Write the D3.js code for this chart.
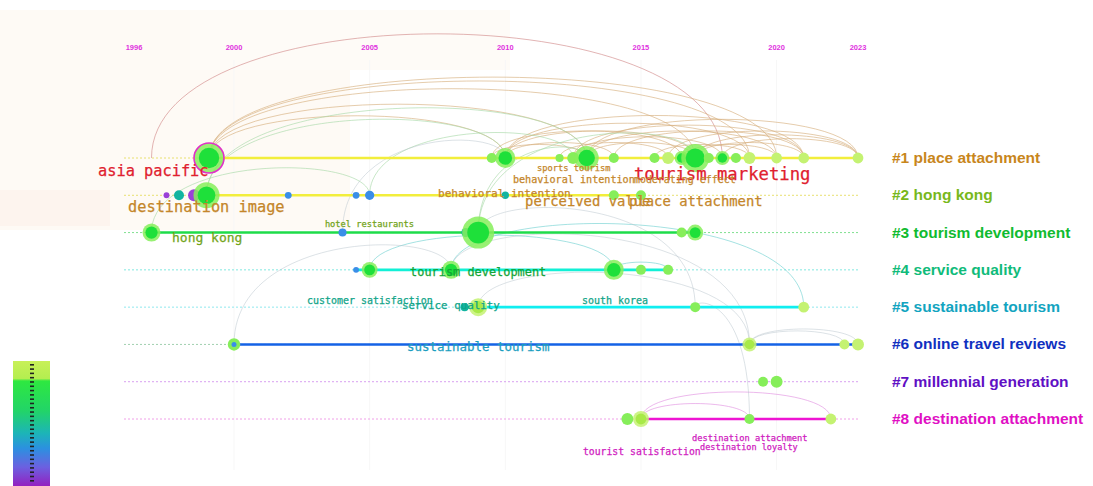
<!DOCTYPE html>
<html>
<head>
<meta charset="utf-8">
<script src="https://cdn.jsdelivr.net/npm/d3@7"></script>
<style>
  body { margin: 0; background: #fff; }
  svg { display: block; }
</style>
</head>
<body>
<div id="chart"></div>
<script>
// ---- data ----
const clusterIds = [1, 2, 3, 4, 5, 6, 7, 8];
const clusterNames = ["#1 place attachment", "#2 hong kong", "#3 tourism development", "#4 service quality",
  "#5 sustainable tourism", "#6 online travel reviews", "#7 millennial generation", "#8 destination attachment"];
const yearTicks = [1996, 2000, 2005, 2010, 2015, 2020, 2023];
// solid timeline span of each cluster (null = no solid line)
const lineStart = [1999, 1999, 1996.7, 2004.5, 2008.6, 2000, null, 2015];
const lineEnd = [2023, 2015, 2017, 2016, 2021, 2023, null, 2022];

// nodes: [cluster, year, citations, kind]   kind: g green, y yellow-green, b blue, t teal, p purple
const nodes = [
  [1, 1999, 233, "g"], [1, 2009.5, 26, "g"], [1, 2010, 104, "g"], [1, 2012, 17, "g"], [1, 2012.5, 37, "g"],
  [1, 2013, 150, "g"], [1, 2014, 26, "g"], [1, 2015.5, 26, "g"], [1, 2016, 37, "y"], [1, 2016.5, 51, "g"],
  [1, 2017, 203, "g"], [1, 2017.5, 26, "g"], [1, 2018, 51, "g"], [1, 2018.5, 26, "g"], [1, 2019, 37, "y"],
  [1, 2020, 30, "y"], [1, 2021, 30, "y"], [1, 2023, 30, "y"],
  [2, 1997.3, 9, "p"], [2, 1997.8, 26, "t"], [2, 1998.4, 37, "p"], [2, 1998.9, 175, "g"], [2, 2002, 12, "b"],
  [2, 2004.5, 12, "b"], [2, 2005, 22, "b"], [2, 2010, 14, "t"], [2, 2014, 26, "g"], [2, 2015, 26, "g"],
  [3, 1996.7, 84, "g"], [3, 2004, 17, "b"], [3, 2008.55, 22, "t"], [3, 2009, 266, "g"], [3, 2016.5, 26, "g"],
  [3, 2017, 66, "g"],
  [4, 2004.5, 9, "b"], [4, 2005, 66, "g"], [4, 2008, 84, "g"], [4, 2014, 104, "g"], [4, 2015, 26, "g"],
  [4, 2016, 26, "g"],
  [5, 2008.5, 17, "t"], [5, 2009, 84, "y"], [5, 2017, 26, "g"], [5, 2021, 30, "y"],
  [6, 2000, 40, "gb"], [6, 2019, 51, "y"], [6, 2022.5, 26, "y"], [6, 2023, 37, "y"],
  [7, 2019.5, 26, "g"], [7, 2020, 37, "g"],
  [8, 2014.5, 37, "g"], [8, 2015, 66, "y"], [8, 2019, 26, "g"], [8, 2022, 30, "y"]
];

// co-citation links: [cluster1, year1, cluster2, year2, kind]
const links = [
  [1, 1996.7, 1, 2018, "r"],
  [1, 1999, 1, 2010, "t"], [1, 1999, 1, 2013, "t"], [1, 1999, 1, 2017, "t"], [1, 1999, 1, 2019, "t"],
  [1, 1999, 1, 2020, "t"], [1, 2009.5, 1, 2016.5, "t"], [1, 2010, 1, 2017, "t"], [1, 2010, 1, 2019, "t"],
  [1, 2010, 1, 2021, "t"], [1, 2012.5, 1, 2018, "t"], [1, 2013, 1, 2017, "t"], [1, 2013, 1, 2020, "t"],
  [1, 2013, 1, 2023, "t"], [1, 2014, 1, 2021, "t"], [1, 2015.5, 1, 2019, "t"], [1, 2016, 1, 2023, "t"],
  [1, 2016.5, 1, 2020, "t"], [1, 2017, 1, 2021, "t"], [1, 2017, 1, 2023, "t"], [1, 2012, 1, 2016, "t"],
  [1, 2018, 1, 2023, "t"], [1, 2010, 1, 2014, "t"], [1, 2012.5, 1, 2021, "t"], [1, 2009.5, 1, 2013, "t"],
  [2, 1998.9, 1, 2010, "g"], [2, 1998.9, 1, 2013, "g"], [3, 2009, 1, 2013, "g"], [3, 2009, 1, 2017, "g"],
  [3, 1996.7, 2, 2005, "g"], [2, 2005, 1, 2012.5, "g"], [3, 2004, 1, 2010, "s"],
  [4, 2008, 5, 2021, "c"], [4, 2005, 4, 2014, "c"], [4, 2014, 4, 2016, "c"], [5, 2009, 6, 2019, "s"],
  [6, 2000, 4, 2008, "s"], [4, 2008, 6, 2019, "s"], [3, 2009, 5, 2017, "s"],
  [6, 2019, 6, 2022.5, "s"], [6, 2019, 6, 2023, "s"],
  [8, 2015, 8, 2019, "m"], [8, 2015, 8, 2022, "m"], [5, 2017, 8, 2019, "s"]
];

// labels: [text, cluster, startYear, offset below row (px), citations]
const labels = [
  ["asia pacific", 1, 1994.56, 18, 86], ["tourism marketing", 1, 2014.74, 22, 97],
  ["sports tourism", 1, 2011.17, 13, 49], ["behavioral intention", 1, 2010.28, 25, 57],
  ["moderating effect", 1, 2014.74, 25, 56],
  ["destination image", 2, 1995.76, 17, 86], ["behavioral intention", 2, 2007.52, 2, 62],
  ["perceived value", 2, 2010.73, 11, 78], ["place attachment", 2, 2014.56, 11, 78],
  ["hong kong", 3, 1997.52, 9, 73], ["hotel restaurants", 3, 2003.35, -6, 49],
  ["tourism development", 4, 2006.49, 6, 67],
  ["customer satisfaction", 5, 2002.69, -3, 56], ["service quality", 5, 2006.19, 2, 61],
  ["south korea", 5, 2012.83, -3, 56],
  ["sustainable tourism", 6, 2006.38, 7, 70],
  ["tourist satisfaction", 8, 2012.86, 36, 55], ["destination attachment", 8, 2016.88, 22, 49],
  ["destination loyalty", 8, 2017.18, 31, 48]
];

// ---- drawing ----
const width = 1093, height = 486;
const svg = d3.select("#chart").append("svg")
  .attr("width", width)
  .attr("height", height);

const x = d3.scaleLinear().domain([1996, 2000, 2023]).range([134, 234, 858]);
const y = d3.scalePoint().domain(clusterIds).range([158, 419]);
const r = d3.scaleSqrt().domain([0, 300]).range([0, 17]);
const fontSize = d3.scaleLinear().domain([0, 100]).range([0, 17.8]);

const lineColor = d3.scaleOrdinal().domain(clusterIds)
  .range(["#f2ee3c", "#f2ee3c", "#1edc4a", "#12f0d6", "#10eef0", "#1462e6", "#c080e0", "#ee14d2"]);
const dashColor = d3.scaleOrdinal().domain(clusterIds)
  .range(["#e8e070", "#e8e070", "#80e090", "#80e8e0", "#90e8ee", "#a0d0b0", "#d8a0f0", "#f0a0e8"]);
const nameColor = d3.scaleOrdinal().domain(clusterIds)
  .range(["#c8861c", "#78b81c", "#10bb30", "#10bb7a", "#12a4c0", "#1030c0", "#6010c4", "#e010c4"]);
const labelColor = d3.scaleOrdinal().domain(clusterIds)
  .range(["#c4862a", "#c4862a", "#72a41a", "#14a436", "#0ea488", "#1a9ec0", "#8030c0", "#d020c0"]);
const linkColor = { r: "#d08888", t: "#d6ae7a", g: "#a8d8a8", c: "#70d0d0", s: "#b8c4cc", m: "#e090e0" };
const nodeCore = { g: "#1ee03a", y: "#a8ea48", b: "#3a8ee8", t: "#12b4a0", p: "#9a40d8", gb: "#1ee03a" };
const nodeHalo = { g: "#86ee5a", y: "#c4f272", b: "#3a8ee8", t: "#12b4a0", p: "#9a40d8", gb: "#86ee5a" };

// faint background wash (top-left)
const bg = svg.append("g").attr("class", "background");
bg.append("rect").attr("x", 0).attr("y", 10).attr("width", 350).attr("height", 220).attr("fill", "#fefaf5");
bg.append("rect").attr("x", 190).attr("y", 10).attr("width", 320).attr("height", 60).attr("fill", "#fefbf7");
bg.append("rect").attr("x", 0).attr("y", 190).attr("width", 110).attr("height", 36).attr("fill", "#fdf4ee");

// faint vertical slice lines
svg.append("g").selectAll("line")
  .data(yearTicks.slice(1, -1))
  .join("line")
  .attr("x1", d => x(d)).attr("x2", d => x(d))
  .attr("y1", 60).attr("y2", 470)
  .attr("stroke", "#f7f7f7").attr("stroke-width", 1);

// year labels at top
svg.append("g").selectAll("text")
  .data(yearTicks)
  .join("text")
  .attr("x", d => x(d)).attr("y", 50)
  .attr("text-anchor", "middle")
  .attr("font-family", "Liberation Sans Narrow, Arial, sans-serif")
  .attr("font-weight", "bold")
  .attr("font-size", 7.5)
  .attr("fill", "#e032e0")
  .text(d => d);

// dashed baselines
svg.append("g").selectAll("line")
  .data(clusterIds)
  .join("line")
  .attr("x1", x(1995.6)).attr("x2", x(2023))
  .attr("y1", d => y(d)).attr("y2", d => y(d))
  .attr("stroke", d => dashColor(d))
  .attr("stroke-width", 1)
  .attr("stroke-dasharray", "2,2");

// links
function arcPath(d) {
  const x1 = x(d[1]), y1 = y(d[0]), x2 = x(d[3]), y2 = y(d[2]);
  const k = d[4] === "r" ? 0.29 : 0.19;
  const top = Math.min(y1, y2) - Math.abs(x2 - x1) * k;
  return `M${x1},${y1} C${x1},${top} ${x2},${top} ${x2},${y2}`;
}
svg.append("g").attr("fill", "none").selectAll("path")
  .data(links)
  .join("path")
  .attr("d", arcPath)
  .attr("stroke", d => linkColor[d[4]])
  .attr("stroke-opacity", d => d[4] === "s" ? 0.55 : 0.7)
  .attr("stroke-width", 0.9);

// solid cluster timelines
const spans = clusterIds.map((c, i) => ({ c, s: lineStart[i], e: lineEnd[i] })).filter(d => d.s !== null);
svg.append("g").selectAll("line")
  .data(spans)
  .join("line")
  .attr("x1", d => x(d.s)).attr("x2", d => x(d.e))
  .attr("y1", d => y(d.c)).attr("y2", d => y(d.c))
  .attr("stroke", d => lineColor(d.c))
  .attr("stroke-width", 2.6);

// nodes
const nodeG = svg.append("g").selectAll("g")
  .data(nodes)
  .join("g")
  .attr("transform", d => `translate(${x(d[1])},${y(d[0])})`);
nodeG.append("circle")
  .attr("r", d => r(d[2]))
  .attr("fill", d => nodeHalo[d[3]])
  .attr("fill-opacity", d => r(d[2]) >= 7 ? 0.85 : 1)
  .attr("stroke", (d, i) => i === 0 ? "#e030c8" : "none")
  .attr("stroke-width", 1.6);
nodeG.filter(d => r(d[2]) >= 7).append("circle")
  .attr("r", d => r(d[2]) * 0.68)
  .attr("fill", d => nodeCore[d[3]]);
nodeG.filter(d => d[3] === "gb").append("circle")
  .attr("r", 2.5)
  .attr("fill", "#3a8ee8");

// node labels
svg.append("g").selectAll("text")
  .data(labels)
  .join("text")
  .attr("x", d => x(d[2]))
  .attr("y", d => y(d[1]) + d[3])
  .attr("font-family", "DejaVu Sans Mono, Liberation Mono, monospace")
  .attr("font-size", d => fontSize(d[4]))
  .attr("fill", d => d[1] === 1 && d[4] > 80 ? "#e0202e" : labelColor(d[1]))
  .attr("stroke", d => d[1] === 1 && d[4] > 80 ? "#e0202e" : labelColor(d[1]))
  .attr("stroke-width", 0.25)
  .text(d => d[0]);

// cluster names on the right
svg.append("g").selectAll("text")
  .data(clusterIds)
  .join("text")
  .attr("x", x(2023) + 34)
  .attr("y", d => y(d) + 5)
  .attr("font-family", "Liberation Sans, Arial, sans-serif")
  .attr("font-weight", "bold")
  .attr("font-size", 15.5)
  .attr("fill", d => nameColor(d))
  .text((d, i) => clusterNames[i]);

// colour legend bar bottom-left
const defs = svg.append("defs");
const grad = defs.append("linearGradient").attr("id", "yearGrad")
  .attr("x1", 0).attr("y1", 0).attr("x2", 0).attr("y2", 1);
[[0, "#c8f058"], [0.14, "#b4ee50"], [0.16, "#2ee840"], [0.4, "#22d468"], [0.58, "#1cb4b8"],
 [0.7, "#2c90e0"], [0.85, "#6c60e0"], [1, "#9420c0"]]
  .forEach(s => grad.append("stop").attr("offset", s[0]).attr("stop-color", s[1]));
svg.append("rect")
  .attr("x", 13).attr("y", 361).attr("width", 37).attr("height", 125)
  .attr("fill", "url(#yearGrad)");
const legendY = d3.scaleLinear().domain([2023, 1996]).range([364, 480]);
svg.append("g").selectAll("rect")
  .data(d3.range(1996, 2024))
  .join("rect")
  .attr("x", 30).attr("y", d => legendY(d))
  .attr("width", 4).attr("height", 1.6)
  .attr("fill", "#222");
</script>
</body>
</html>
